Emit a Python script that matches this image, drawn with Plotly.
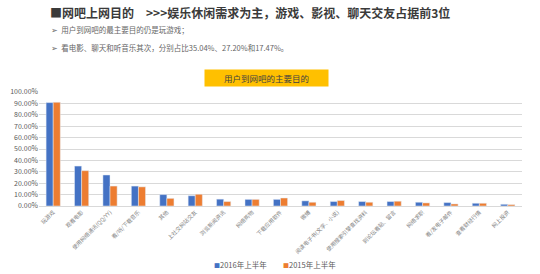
import plotly.graph_objects as go

categories = ["玩游戏", "观看电影", "使用网络通讯(QQ/YY)", "看/听/下载音乐", "其他",
              "上社交网站交友", "浏览新闻资讯", "网络购物", "下载应用软件", "微博",
              "阅读电子书(文学、小说)", "使用搜索引擎查找资料", "到论坛看贴、留言",
              "网络求职", "看/发电子邮件", "查看财经行情", "网上投资"]
h2016 = [0.907, 0.3504, 0.2720, 0.1747, 0.100, 0.090, 0.060, 0.058, 0.058, 0.045,
         0.039, 0.039, 0.039, 0.033, 0.030, 0.024, 0.015]
h2015 = [0.910, 0.310, 0.175, 0.168, 0.067, 0.103, 0.039, 0.058, 0.070, 0.033,
         0.048, 0.033, 0.042, 0.027, 0.018, 0.024, 0.012]
series_names = ["2016年上半年", "2015年上半年"]
series_colors = ["#4472C4", "#ED7D31"]

FONT = "Noto Sans CJK SC"
fig = go.Figure()
fig.add_trace(go.Bar(x=categories, y=h2016, name=series_names[0], marker_color=series_colors[0]))
fig.add_trace(go.Bar(x=categories, y=h2015, name=series_names[1], marker_color=series_colors[1]))

fig.update_layout(
    width=540, height=274,
    margin=dict(l=39, r=18, t=92, b=68, autoexpand=False),
    paper_bgcolor="white", plot_bgcolor="white",
    font=dict(family=FONT, color="#595959"),
    barmode="group", bargap=0.5, bargroupgap=0,
    showlegend=False,
    xaxis=dict(tickangle=-45, tickfont=dict(size=5.5, color="#7f7f7f"), automargin=False,
               showline=True, linecolor="#d9d9d9", linewidth=1, ticks=""),
    yaxis=dict(range=[0, 1.0], dtick=0.1, tickformat=".2%", automargin=False,
               tickfont=dict(size=7, color="#595959"),
               showgrid=True, gridcolor="#d9d9d9", gridwidth=1,
               zeroline=False, ticks=""),
)

# legend drawn as text (small square + series name), like the original
legend_x = [0.358, 0.5]
for name, color, lx in zip(series_names, series_colors, legend_x):
    fig.add_annotation(xref="paper", yref="paper", x=lx, y=-0.51, xanchor="left", yanchor="middle",
                       text=f"<span style='color:{color};font-size:6px'>■</span>{name}",
                       showarrow=False, font=dict(size=7.5, color="#595959", family=FONT))

fig.add_annotation(xref="paper", yref="paper", x=0.018, y=1.7, xanchor="left", yanchor="middle",
                   text="<b>■网吧上网目的　>>>娱乐休闲需求为主，游戏、影视、聊天交友占据前3位</b>",
                   showarrow=False, font=dict(size=12, color="#3a3a3a", family=FONT))
fig.add_annotation(xref="paper", yref="paper", x=0.02, y=1.55, xanchor="left", yanchor="middle",
                   text="➢  用户到网吧的最主要目的仍是玩游戏；",
                   showarrow=False, font=dict(size=7.5, color="#666666", family=FONT))
fig.add_annotation(xref="paper", yref="paper", x=0.02, y=1.39, xanchor="left", yanchor="middle",
                   text="➢  看电影、聊天和听音乐其次，分别占比35.04%、27.20%和17.47%。",
                   showarrow=False, font=dict(size=7.5, color="#666666", family=FONT))
fig.add_annotation(xref="paper", yref="paper", x=0.472, y=1.12, xanchor="center", yanchor="middle",
                   text="　　用户到网吧的主要目的　　", bgcolor="#FFC000", borderpad=2,
                   showarrow=False, font=dict(size=8.5, color="#404040", family=FONT))

fig.write_html("out.html")
